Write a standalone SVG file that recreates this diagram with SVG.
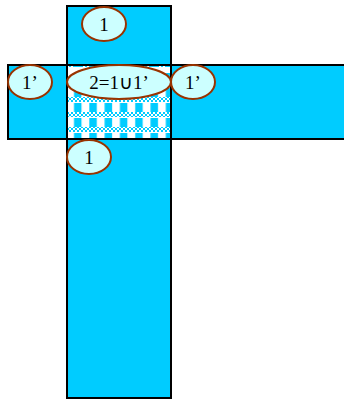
<svg xmlns="http://www.w3.org/2000/svg" width="344" height="400" viewBox="0 0 344 400">
<style>
.band{fill:#00CCFF}
.edge{fill:none;stroke:#000;stroke-width:2}
.fine{fill:url(#fine)}
.lbl ellipse{fill:#CCFFFF;stroke:#993300;stroke-width:2}
.lbl text{font-family:"Liberation Serif","Times New Roman",serif;font-size:19px;fill:#000;text-anchor:middle}
</style>
<defs>
<pattern id="fine" x="67" y="0" width="4" height="4" patternUnits="userSpaceOnUse">
<rect x="0" y="0" width="2" height="2" fill="#00CCFF"/>
<rect x="2" y="2" width="2" height="2" fill="#00CCFF"/>
</pattern>
<pattern id="blocks" x="67" y="97" width="15.3" height="15" patternUnits="userSpaceOnUse">
<rect x="7" y="6" width="7.5" height="9" fill="#00CCFF"/>
</pattern>
<clipPath id="sq"><rect x="67" y="65" width="104" height="74"/></clipPath>
</defs>
<g id="vertical-strip">
<rect class="band" x="67" y="6" width="104" height="392"/>
</g>
<g id="horizontal-strip">
<rect class="band" x="8" y="65" width="340" height="74"/>
</g>
<g id="intersection" clip-path="url(#sq)">
<rect x="67" y="65" width="104" height="74" fill="#fff"/>
<rect x="67" y="65" width="104" height="74" fill="url(#blocks)"/>
<rect class="fine" x="67" y="65" width="104" height="2"/>
<rect class="fine" x="67" y="82" width="104" height="5"/>
<rect class="fine" x="67" y="97" width="104" height="5"/>
<rect class="fine" x="67" y="112" width="104" height="5"/>
<rect class="fine" x="67" y="127" width="104" height="5"/>
</g>
<g id="outlines">
<rect class="edge" x="67" y="6" width="104" height="392"/>
<rect class="edge" x="8" y="65" width="340" height="74"/>
</g>
<g id="label-top" class="lbl">
<ellipse cx="104" cy="24" rx="22" ry="17"/>
<text x="104" y="30.5">1</text>
</g>
<g id="label-left" class="lbl">
<ellipse cx="30" cy="82" rx="22" ry="17"/>
<text x="30" y="88.5">1’</text>
</g>
<g id="label-center" class="lbl">
<ellipse cx="119" cy="82" rx="52" ry="17"/>
<text x="119" y="88.5">2=1∪1’</text>
</g>
<g id="label-right" class="lbl">
<ellipse cx="193" cy="82" rx="22" ry="17"/>
<text x="193" y="88.5">1’</text>
</g>
<g id="label-bottom" class="lbl">
<ellipse cx="89" cy="157" rx="22" ry="17"/>
<text x="89" y="163.5">1</text>
</g>
</svg>
